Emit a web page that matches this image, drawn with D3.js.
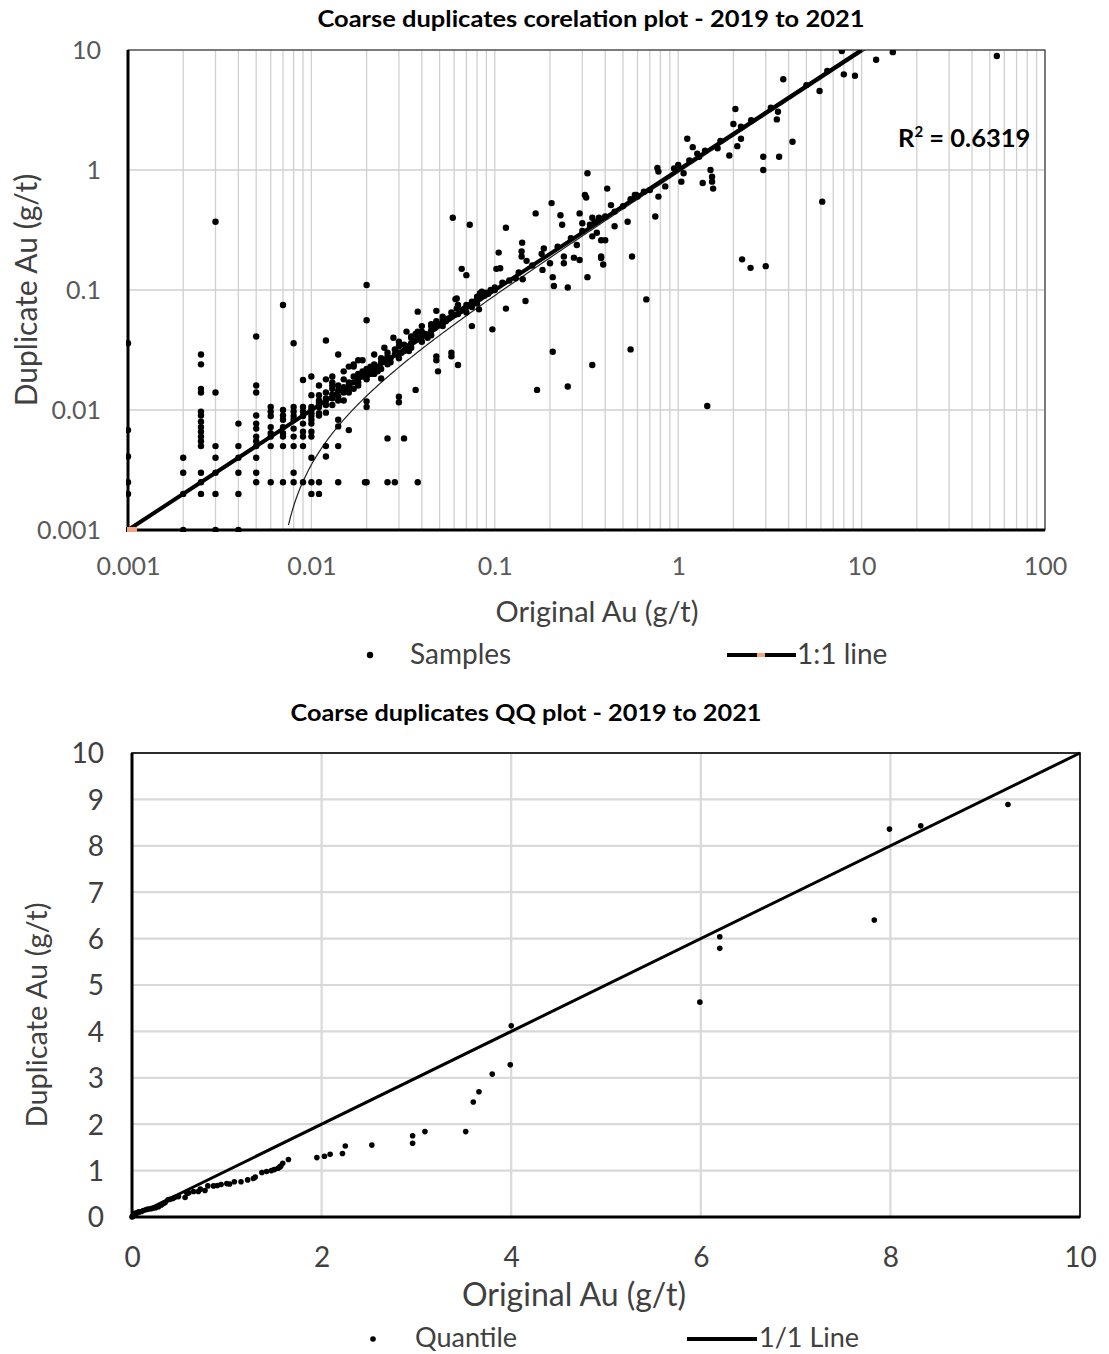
<!DOCTYPE html>
<html>
<head>
<meta charset="utf-8">
<script src="https://cdn.jsdelivr.net/npm/d3@7"></script>
<style>
  body { margin: 0; background: #fff; }
  svg { display: block; font-family: Lato, "Noto Sans", sans-serif; }
</style>
</head>
<body>
<svg id="chart" width="1109" height="1354"></svg>
<script>
// ---------- data: coarse duplicate pairs [original, duplicate] Au g/t ----------
const samples = [
  [0.001,0.036],[0.001,0.0068],[0.001,0.0041],[0.001,0.0025],[0.001,0.002],[0.001,0.001],
  [0.002,0.004],[0.002,0.003],[0.002,0.002],[0.002,0.001],
  [0.0025,0.029],[0.0025,0.024],[0.0025,0.015],[0.0025,0.014],[0.0025,0.0097],[0.0025,0.009],[0.0025,0.008],
  [0.0025,0.0072],[0.0025,0.0066],[0.0025,0.006],[0.0025,0.0055],[0.0025,0.005],[0.0025,0.003],[0.0025,0.0025],[0.0025,0.002],
  [0.003,0.37],[0.003,0.014],[0.003,0.005],[0.003,0.004],[0.003,0.003],[0.003,0.002],[0.003,0.001],
  [0.004,0.0077],[0.004,0.005],[0.004,0.004],[0.004,0.003],[0.004,0.002],[0.004,0.001],
  [0.005,0.041],[0.005,0.016],[0.005,0.014],[0.005,0.009],[0.005,0.0077],[0.005,0.007],[0.005,0.006],
  [0.005,0.0055],[0.005,0.005],[0.005,0.004],[0.005,0.003],[0.005,0.0025],
  [0.006,0.0106],[0.006,0.0097],[0.006,0.0089],[0.006,0.0072],[0.006,0.0064],[0.006,0.006],[0.006,0.005],[0.006,0.0025],
  [0.007,0.075],[0.007,0.01],[0.007,0.009],[0.007,0.0083],[0.007,0.0072],[0.007,0.0064],[0.007,0.006],[0.007,0.005],[0.007,0.0025],
  [0.008,0.036],[0.008,0.0106],[0.008,0.0097],[0.008,0.0089],[0.008,0.0083],[0.008,0.007],[0.008,0.006],[0.008,0.005],[0.008,0.003],[0.008,0.0025],
  [0.009,0.0178],[0.009,0.0106],[0.009,0.0097],[0.009,0.0089],[0.009,0.0077],[0.009,0.0066],[0.009,0.006],[0.009,0.005],[0.009,0.0025],
  [0.01,0.019],[0.01,0.0133],[0.01,0.0106],[0.01,0.01],[0.01,0.0094],[0.01,0.0089],[0.01,0.0083],[0.01,0.0077],
  [0.01,0.0066],[0.01,0.006],[0.01,0.004],[0.01,0.0025],[0.01,0.002],
  [0.011,0.0025],[0.011,0.002],[0.011,0.0133],[0.011,0.0115],[0.011,0.0106],[0.011,0.0094],[0.011,0.012],[0.011,0.009],
  [0.011,0.011],[0.011,0.016],
  [0.012,0.038],[0.012,0.005],[0.012,0.0041],[0.012,0.014],[0.012,0.0125],[0.012,0.011],[0.012,0.0095],
  [0.012,0.012],[0.012,0.018],
  [0.013,0.017],[0.013,0.015],[0.013,0.0125],[0.013,0.011],[0.013,0.016],[0.013,0.0135],[0.013,0.019],
  [0.014,0.029],[0.014,0.0025],[0.014,0.0083],[0.014,0.0073],[0.014,0.005],[0.014,0.016],[0.014,0.013],[0.014,0.012],
  [0.014,0.0145],
  [0.015,0.018],[0.015,0.015],[0.015,0.014],[0.015,0.012],[0.015,0.0155],[0.015,0.021],
  [0.016,0.023],[0.016,0.017],[0.016,0.016],[0.016,0.0068],[0.016,0.014],[0.016,0.015],
  [0.017,0.023],[0.017,0.019],[0.017,0.015],[0.017,0.017],[0.017,0.024],
  [0.018,0.026],[0.018,0.02],[0.018,0.017],[0.018,0.016],[0.018,0.0185],
  [0.019,0.019],[0.019,0.021],[0.019,0.026],
  [0.02,0.11],[0.02,0.056],[0.02,0.0118],[0.02,0.0106],[0.02,0.0025],[0.02,0.021],[0.02,0.019],[0.02,0.022],[0.02,0.018],
  [0.0196,0.0025],[0.021,0.02],[0.021,0.023],[0.022,0.024],[0.022,0.02],[0.022,0.022],[0.022,0.029],
  [0.023,0.023],[0.023,0.021],
  [0.024,0.0183],[0.024,0.027],[0.024,0.025],[0.024,0.022],[0.025,0.026],[0.025,0.033],
  [0.026,0.0058],[0.026,0.0025],[0.026,0.03],[0.026,0.026],[0.026,0.028],[0.026,0.024],
  [0.027,0.027],[0.027,0.025],
  [0.0285,0.0025],[0.0285,0.029],[0.0285,0.032],[0.028,0.04],[0.029,0.03],
  [0.03,0.0129],[0.03,0.0116],[0.03,0.034],[0.03,0.03],[0.03,0.027],[0.03,0.037],[0.031,0.03],
  [0.032,0.0058],[0.032,0.035],[0.032,0.031],[0.033,0.034],[0.033,0.045],[0.034,0.031],
  [0.035,0.04],[0.035,0.036],[0.035,0.033],[0.035,0.041],[0.036,0.038],
  [0.037,0.0147],[0.037,0.043],
  [0.038,0.066],[0.038,0.0025],[0.038,0.039],[0.038,0.045],[0.039,0.04],
  [0.04,0.045],[0.04,0.041],[0.04,0.037],[0.04,0.05],[0.042,0.043],[0.043,0.04],
  [0.045,0.05],[0.045,0.046],[0.045,0.052],[0.045,0.042],[0.047,0.048],
  [0.048,0.067],[0.048,0.028],[0.048,0.026],[0.048,0.055],[0.048,0.05],[0.049,0.021],
  [0.05,0.052],[0.052,0.057],[0.052,0.05],[0.052,0.06],[0.054,0.055],[0.056,0.058],
  [0.058,0.03],[0.058,0.028],[0.058,0.065],[0.058,0.06],[0.059,0.40],[0.06,0.062],
  [0.061,0.084],[0.062,0.085],[0.062,0.07],[0.063,0.075],[0.063,0.0237],[0.063,0.063],
  [0.065,0.067],[0.066,0.15],[0.066,0.068],[0.068,0.07],[0.07,0.133],[0.07,0.075],[0.07,0.065],[0.072,0.074],[0.073,0.35],
  [0.075,0.08],[0.075,0.072],[0.075,0.05],[0.078,0.08],[0.08,0.088],[0.08,0.083],[0.08,0.077],
  [0.082,0.069],[0.083,0.094],[0.085,0.097],[0.086,0.09],[0.088,0.09],[0.09,0.095],[0.092,0.093],[0.095,0.1],[0.097,0.047],
  [0.1,0.1],[0.1,0.105],
  [0.102,0.15],[0.105,0.205],[0.107,0.152],[0.11,0.115],[0.115,0.33],[0.115,0.07],[0.12,0.12],[0.13,0.125],[0.135,0.14],
  [0.14,0.21],[0.14,0.19],[0.141,0.248],[0.142,0.123],[0.147,0.081],[0.149,0.175],[0.16,0.16],
  [0.167,0.435],[0.17,0.0147],[0.18,0.2],[0.182,0.147],[0.185,0.222],[0.2,0.167],[0.204,0.53],
  [0.207,0.128],[0.207,0.0306],[0.21,0.108],[0.22,0.23],[0.228,0.42],[0.233,0.35],
  [0.238,0.19],[0.238,0.167],[0.25,0.105],[0.25,0.0157],[0.26,0.27],[0.27,0.186],
  [0.28,0.237],[0.29,0.178],[0.29,0.435],[0.3,0.36],[0.3,0.31],[0.31,0.62],[0.315,0.59],
  [0.32,0.128],[0.32,0.94],[0.33,0.35],[0.34,0.40],[0.34,0.28],[0.34,0.0237],[0.35,0.37],
  [0.36,0.30],[0.37,0.40],[0.38,0.26],[0.38,0.19],[0.38,0.185],[0.39,0.163],[0.4,0.41],[0.4,0.26],
  [0.41,0.70],[0.43,0.51],[0.45,0.34],[0.45,0.45],[0.5,0.5],[0.53,0.37],[0.55,0.032],[0.55,0.57],
  [0.56,0.19],[0.58,0.62],[0.59,0.62],[0.6,0.6],[0.65,0.66],[0.67,0.0835],[0.7,0.68],
  [0.75,0.41],[0.77,1.04],[0.78,0.97],[0.78,0.6],[0.85,0.73],[0.95,1.03],[1.0,1.1],[1.04,0.8],[1.07,0.94],
  [1.12,1.82],[1.15,1.2],[1.2,1.55],[1.27,1.37],[1.3,1.29],[1.36,0.78],[1.4,1.45],[1.44,0.0108],
  [1.5,1.0],[1.53,0.88],[1.53,0.80],[1.55,0.70],[1.64,1.52],[1.7,1.75],[1.9,1.32],
  [2.0,2.42],[2.05,3.22],[2.1,1.58],[2.2,1.82],[2.2,2.3],[2.23,0.18],[2.48,0.153],[2.5,2.6],
  [2.91,1.29],[2.91,1.0],[3.0,0.158],[3.2,3.3],[3.45,2.64],[3.5,3.06],[3.55,1.29],[3.74,5.7],
  [4.2,1.72],[5.0,5.1],[5.9,4.55],[6.1,0.545],[6.5,6.7],[7.8,9.8],[8.0,6.27],[9.2,6.1],
  [12,8.3],[14.8,9.6],[54.6,8.9]
];

// 1:1 reference line end points
const oneToOne = [[0.001,0.001],[10,10]];
// linear trendline of the sample pairs (duplicate = slope * original + intercept)
const trendSlope = 0.96;
const trendIntercept = -0.0061;
const rSquared = "0.6319";

const logTicks = [0.001, 0.01, 0.1, 1, 10, 100];
const logTickLabels = ["0.001", "0.01", "0.1", "1", "10", "100"];
const logYTicks = [0.001, 0.01, 0.1, 1, 10];
const logYTickLabels = ["0.001", "0.01", "0.1", "1", "10"];

// ---------- data: QQ plot quantiles [original, duplicate] ----------
const quantiles = [
  [0,0],[0.005,0.01],[0.01,0.02],[0.02,0.05],[0.03,0.08],[0.05,0.09],[0.07,0.11],[0.1,0.12],
  [0.12,0.14],[0.15,0.16],[0.17,0.17],[0.2,0.18],[0.22,0.19],[0.25,0.2],[0.28,0.22],[0.31,0.26],
  [0.33,0.29],[0.35,0.31],[0.38,0.37],[0.4,0.38],[0.43,0.40],[0.45,0.42],[0.49,0.44],[0.56,0.42],
  [0.58,0.51],[0.6,0.52],[0.65,0.55],[0.70,0.55],[0.72,0.6],[0.77,0.57],[0.80,0.67],[0.86,0.67],
  [0.9,0.68],[0.94,0.70],[1.0,0.72],[1.03,0.71],[1.08,0.76],[1.15,0.76],[1.22,0.80],[1.28,0.83],
  [1.3,0.86],[1.37,0.96],[1.42,0.98],[1.47,1.0],[1.5,1.02],[1.54,1.05],[1.56,1.08],[1.57,1.1],
  [1.59,1.16],[1.65,1.24],[1.95,1.28],[2.03,1.31],[2.09,1.35],[2.22,1.37],[2.25,1.53],[2.53,1.55],
  [2.96,1.59],[2.96,1.75],[3.09,1.84],[3.52,1.84],[3.60,2.48],[3.66,2.70],[3.80,3.08],[3.99,3.28],
  [4.0,4.12],[5.99,4.63],[6.2,5.79],[6.2,6.04],[7.83,6.40],[7.99,8.36],[8.32,8.43],[9.24,8.89]
];
const qqLine = [[0,0],[10,10]];
const qqXTicks = [0, 2, 4, 6, 8, 10];
const qqYTicks = [0, 1, 2, 3, 4, 5, 6, 7, 8, 9, 10];

// ---------- shared styles ----------
const gridColor = "#d0d0d0";
const textColor = "#404040";
const tickColor = "#595959";
const markerOrange = "#f4a57f";

const svg = d3.select("#chart");

// =================== log-log correlation plot ===================
const x1 = d3.scaleLog().domain([0.001, 100]).range([128, 1045]);
const y1 = d3.scaleLog().domain([0.001, 10]).range([530, 50]);

const corrG = svg.append("g");

// minor + major vertical grid lines (1..9 per decade)
const xGrid = [];
logTicks.slice(0, -1).forEach(d => { for (let k = 1; k <= 9; k++) xGrid.push(d * k); });
xGrid.push(100);
corrG.append("g").selectAll("line").data(xGrid).join("line")
  .attr("x1", d => x1(d)).attr("x2", d => x1(d))
  .attr("y1", y1(10)).attr("y2", y1(0.001))
  .attr("stroke", gridColor).attr("stroke-width", 1.3);
corrG.append("g").selectAll("line").data(logYTicks).join("line")
  .attr("x1", x1(0.001)).attr("x2", x1(100))
  .attr("y1", d => y1(d)).attr("y2", d => y1(d))
  .attr("stroke", gridColor).attr("stroke-width", 1.3);

// plot border (top/right thin)
corrG.append("rect")
  .attr("x", x1(0.001)).attr("y", y1(10))
  .attr("width", x1(100) - x1(0.001)).attr("height", y1(0.001) - y1(10))
  .attr("fill", "none").attr("stroke", "#3a3a3a").attr("stroke-width", 1.2);

svg.append("defs").append("clipPath").attr("id", "plot1")
  .append("rect").attr("x", x1(0.001) - 2).attr("y", y1(10))
  .attr("width", x1(100) - x1(0.001) + 4).attr("height", y1(0.001) - y1(10) + 2);

const plot1 = corrG.append("g").attr("clip-path", "url(#plot1)");

// trendline
const trendX = d3.range(-2.135, 1.1, 0.01).map(e => Math.pow(10, e));
const trendPts = trendX.map(v => [v, trendSlope * v + trendIntercept]).filter(p => p[1] > 0.00099);
plot1.append("path")
  .attr("d", d3.line().x(d => x1(d[0])).y(d => y1(d[1]))(trendPts))
  .attr("fill", "none").attr("stroke", "#222").attr("stroke-width", 1.2);

// samples
plot1.append("g").selectAll("circle").data(samples).join("circle")
  .attr("cx", d => x1(d[0])).attr("cy", d => y1(d[1])).attr("r", 3.2)
  .attr("fill", "#000");

// 1:1 line
plot1.append("path")
  .attr("d", d3.line().x(d => x1(d[0])).y(d => y1(d[1]))(oneToOne))
  .attr("fill", "none").attr("stroke", "#000").attr("stroke-width", 4);

// axes lines (left & bottom heavy)
corrG.append("line").attr("x1", x1(0.001)).attr("x2", x1(0.001))
  .attr("y1", y1(10)).attr("y2", y1(0.001) + 1.5).attr("stroke", "#000").attr("stroke-width", 3);
corrG.append("line").attr("x1", x1(0.001) - 1.5).attr("x2", x1(100))
  .attr("y1", y1(0.001)).attr("y2", y1(0.001)).attr("stroke", "#000").attr("stroke-width", 3);

// orange marker on first point of the 1:1 series
corrG.append("rect")
  .attr("x", x1(oneToOne[0][0]) - 1).attr("y", y1(oneToOne[0][1]) - 3)
  .attr("width", 10).attr("height", 5).attr("fill", markerOrange);

// tick labels
const ax1 = d3.axisBottom(x1).tickValues(logTicks).tickSize(0).tickPadding(0)
  .tickFormat((d, i) => logTickLabels[i]);
const gx1 = corrG.append("g").attr("transform", `translate(0,${y1(0.001) + 36})`).call(ax1);
gx1.select(".domain").remove();
gx1.selectAll("text").attr("font-size", 25).attr("fill", tickColor)
  .attr("font-family", "Lato, sans-serif").attr("dy", "0.35em");

const ay1 = d3.axisLeft(y1).tickValues(logYTicks).tickSize(0).tickPadding(0)
  .tickFormat((d, i) => logYTickLabels[i]);
const gy1 = corrG.append("g").attr("transform", `translate(${x1(0.001) - 27},0)`).call(ay1);
gy1.select(".domain").remove();
gy1.selectAll("text").attr("font-size", 25).attr("fill", tickColor)
  .attr("font-family", "Lato, sans-serif").attr("dy", "0.35em");

// titles
svg.append("text").attr("x", 591).attr("y", 27).attr("text-anchor", "middle")
  .attr("font-size", 23).attr("font-weight", "bold").attr("fill", "#000")
  .attr("textLength", 547).attr("lengthAdjust", "spacingAndGlyphs")
  .text("Coarse duplicates corelation plot - 2019 to 2021");
svg.append("text").attr("x", 597).attr("y", 622).attr("text-anchor", "middle")
  .attr("font-size", 29).attr("fill", textColor).text("Original Au (g/t)");
svg.append("text").attr("transform", "translate(37,290) rotate(-90)").attr("text-anchor", "middle")
  .attr("font-size", 30).attr("fill", textColor).text("Duplicate Au (g/t)");

// R² label
const r2 = svg.append("text").attr("x", 898).attr("y", 147)
  .attr("font-size", 25.5).attr("font-weight", "bold").attr("fill", "#000");
r2.append("tspan").text("R");
r2.append("tspan").attr("font-size", 15).attr("dy", -10).text("2");
r2.append("tspan").attr("dy", 10).text(" = " + rSquared);

// legend
const leg1 = svg.append("g");
leg1.append("circle").attr("cx", 370).attr("cy", 655).attr("r", 3.2).attr("fill", "#000");
leg1.append("text").attr("x", 410).attr("y", 664).attr("font-size", 28).attr("fill", textColor).text("Samples");
leg1.append("line").attr("x1", 727).attr("x2", 796).attr("y1", 655).attr("y2", 655)
  .attr("stroke", "#000").attr("stroke-width", 4);
leg1.append("rect").attr("x", 757).attr("y", 653).attr("width", 8).attr("height", 4).attr("fill", markerOrange);
leg1.append("text").attr("x", 797).attr("y", 664).attr("font-size", 28).attr("fill", textColor).text("1:1 line");

// =================== QQ plot ===================
const x2 = d3.scaleLinear().domain([0, 10]).range([132, 1080]);
const y2 = d3.scaleLinear().domain([0, 10]).range([1217, 753]);
const qqG = svg.append("g");

qqG.append("g").selectAll("line").data(qqYTicks.slice(1)).join("line")
  .attr("x1", x2(0)).attr("x2", x2(10)).attr("y1", d => y2(d)).attr("y2", d => y2(d))
  .attr("stroke", "#d9d9d9").attr("stroke-width", 2.2);
qqG.append("g").selectAll("line").data(qqXTicks.slice(1)).join("line")
  .attr("x1", d => x2(d)).attr("x2", d => x2(d)).attr("y1", y2(0)).attr("y2", y2(10))
  .attr("stroke", "#d9d9d9").attr("stroke-width", 2.2);

qqG.append("rect").attr("x", x2(0)).attr("y", y2(10))
  .attr("width", x2(10) - x2(0)).attr("height", y2(0) - y2(10))
  .attr("fill", "none").attr("stroke", "#000").attr("stroke-width", 1.6);

qqG.append("path")
  .attr("d", d3.line().x(d => x2(d[0])).y(d => y2(d[1]))(qqLine))
  .attr("fill", "none").attr("stroke", "#000").attr("stroke-width", 3);

qqG.append("g").selectAll("circle").data(quantiles).join("circle")
  .attr("cx", d => x2(d[0])).attr("cy", d => y2(d[1])).attr("r", 2.8).attr("fill", "#000");

qqG.append("line").attr("x1", x2(0)).attr("x2", x2(0)).attr("y1", y2(10)).attr("y2", y2(0) + 1.5)
  .attr("stroke", "#000").attr("stroke-width", 3);
qqG.append("line").attr("x1", x2(0) - 1.5).attr("x2", x2(10)).attr("y1", y2(0)).attr("y2", y2(0))
  .attr("stroke", "#000").attr("stroke-width", 3);

const ax2 = d3.axisBottom(x2).tickValues(qqXTicks).tickSize(0).tickPadding(0).tickFormat(d3.format("d"));
const gx2 = qqG.append("g").attr("transform", `translate(0,${y2(0) + 40})`).call(ax2);
gx2.select(".domain").remove();
gx2.selectAll("text").attr("font-size", 28).attr("fill", textColor)
  .attr("font-family", "Lato, sans-serif").attr("dy", "0.35em");

const ay2 = d3.axisLeft(y2).tickValues(qqYTicks).tickSize(0).tickPadding(0).tickFormat(d3.format("d"));
const gy2 = qqG.append("g").attr("transform", `translate(${x2(0) - 28},0)`).call(ay2);
gy2.select(".domain").remove();
gy2.selectAll("text").attr("font-size", 28).attr("fill", textColor)
  .attr("font-family", "Lato, sans-serif").attr("dy", "0.35em");

svg.append("text").attr("x", 526).attr("y", 721).attr("text-anchor", "middle")
  .attr("font-size", 23).attr("font-weight", "bold").attr("fill", "#000")
  .attr("textLength", 471).attr("lengthAdjust", "spacingAndGlyphs")
  .text("Coarse duplicates QQ plot - 2019 to 2021");
svg.append("text").attr("x", 574).attr("y", 1306).attr("text-anchor", "middle")
  .attr("font-size", 32).attr("fill", textColor).text("Original Au (g/t)");
svg.append("text").attr("transform", "translate(47,1015) rotate(-90)").attr("text-anchor", "middle")
  .attr("font-size", 29).attr("fill", textColor).text("Duplicate Au (g/t)");

const leg2 = svg.append("g");
leg2.append("circle").attr("cx", 373).attr("cy", 1339).attr("r", 2.8).attr("fill", "#000");
leg2.append("text").attr("x", 415).attr("y", 1347).attr("font-size", 27).attr("fill", textColor).text("Quantile");
leg2.append("line").attr("x1", 687).attr("x2", 757).attr("y1", 1339).attr("y2", 1339)
  .attr("stroke", "#000").attr("stroke-width", 4);
leg2.append("text").attr("x", 759).attr("y", 1347).attr("font-size", 27).attr("fill", textColor).text("1/1 Line");
</script>
</body>
</html>
